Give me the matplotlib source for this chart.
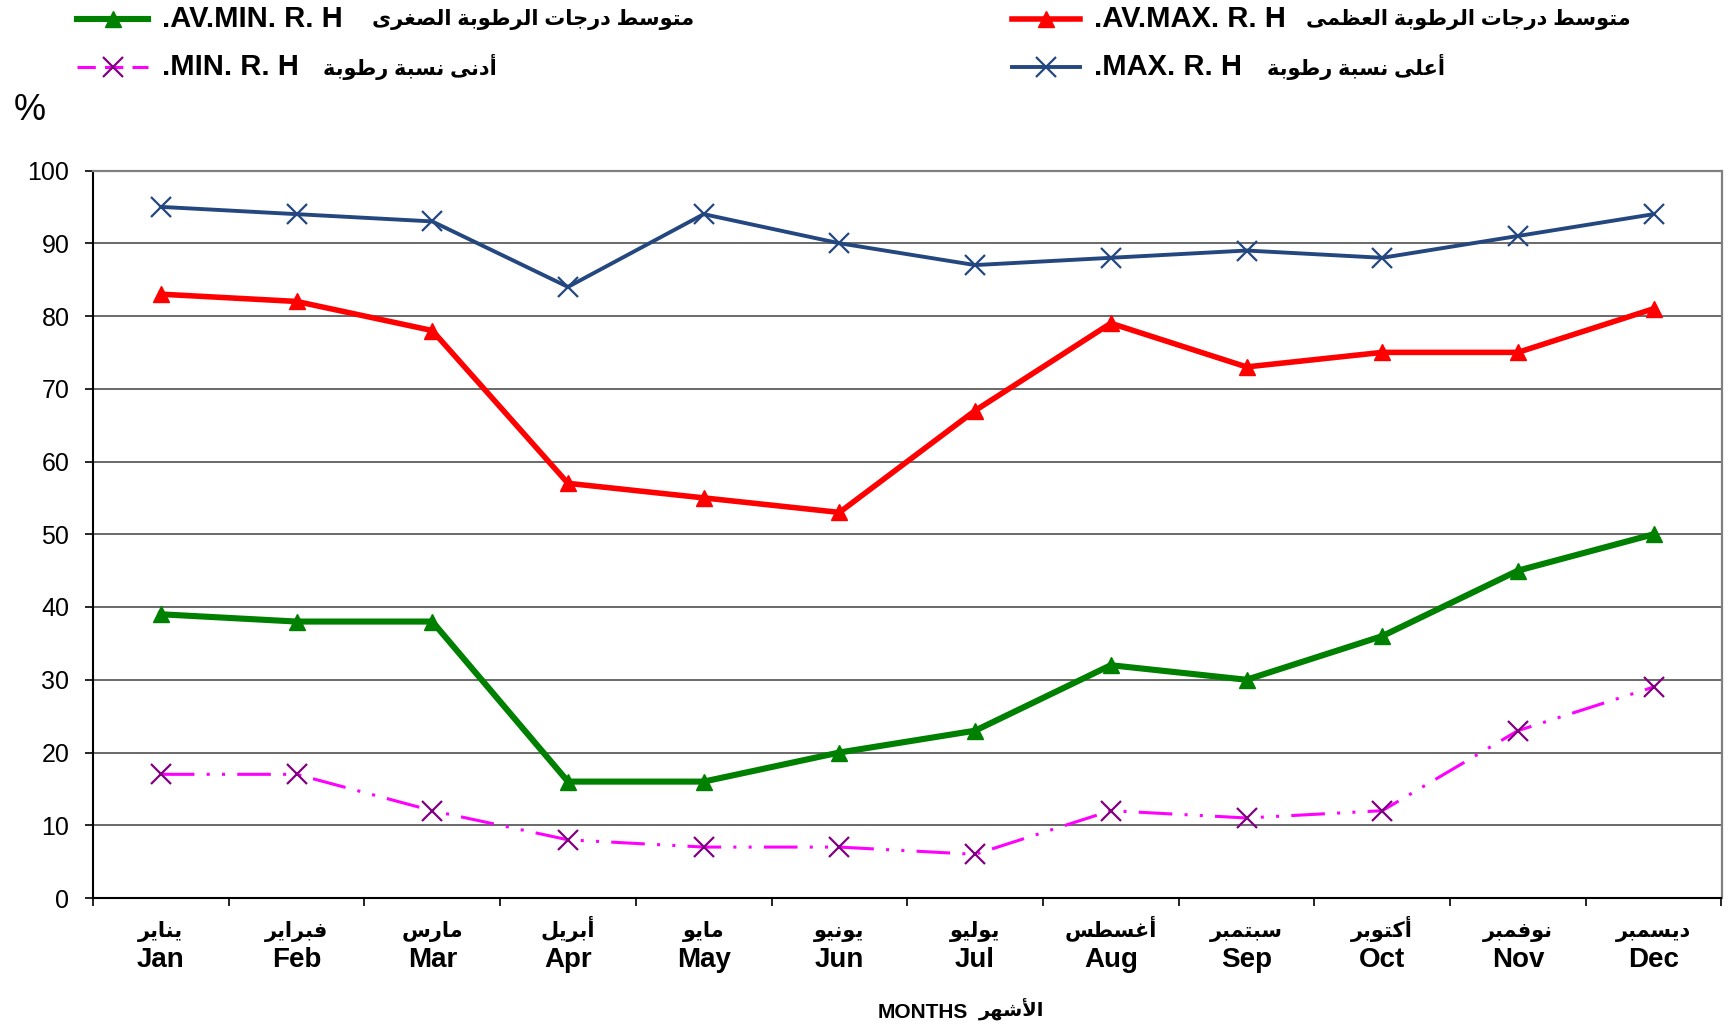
import matplotlib
matplotlib.use("Agg")
import matplotlib.pyplot as plt
from matplotlib.lines import Line2D

plt.rcParams['font.family'] = ['Liberation Sans', 'DejaVu Sans']

months_en = ['Jan', 'Feb', 'Mar', 'Apr', 'May', 'Jun',
             'Jul', 'Aug', 'Sep', 'Oct', 'Nov', 'Dec']
months_ar = ['يناير', 'فبراير', 'مارس', 'أبريل', 'مايو', 'يونيو',
             'يوليو', 'أغسطس', 'سبتمبر', 'أكتوبر', 'نوفمبر', 'ديسمبر']

max_rh = [95, 94, 93, 84, 94, 90, 87, 88, 89, 88, 91, 94]
av_max_rh = [83, 82, 78, 57, 55, 53, 67, 79, 73, 75, 75, 81]
av_min_rh = [39, 38, 38, 16, 16, 20, 23, 32, 30, 36, 45, 50]
min_rh = [17, 17, 12, 8, 7, 7, 6, 12, 11, 12, 23, 29]

lbl_av_min = ('.AV.MIN. R. H', 'متوسط درجات الرطوبة الصغرى')
lbl_av_max = ('.AV.MAX. R. H', 'متوسط درجات الرطوبة العظمى')
lbl_min = ('.MIN. R. H', 'أدنى نسبة رطوبة')
lbl_max = ('.MAX. R. H', 'أعلى نسبة رطوبة')
xlabel_en, xlabel_ar = 'MONTHS', 'الأشهر'

# matplotlib does no arabic shaping: pick presentation forms and reverse
AR_FORMS = {
    'ء': (0xFE80, 1), 'آ': (0xFE81, 2), 'أ': (0xFE83, 2), 'ؤ': (0xFE85, 2),
    'إ': (0xFE87, 2), 'ئ': (0xFE89, 4), 'ا': (0xFE8D, 2), 'ب': (0xFE8F, 4),
    'ة': (0xFE93, 2), 'ت': (0xFE95, 4), 'ث': (0xFE99, 4), 'ج': (0xFE9D, 4),
    'ح': (0xFEA1, 4), 'خ': (0xFEA5, 4), 'د': (0xFEA9, 2), 'ذ': (0xFEAB, 2),
    'ر': (0xFEAD, 2), 'ز': (0xFEAF, 2), 'س': (0xFEB1, 4), 'ش': (0xFEB5, 4),
    'ص': (0xFEB9, 4), 'ض': (0xFEBD, 4), 'ط': (0xFEC1, 4), 'ظ': (0xFEC5, 4),
    'ع': (0xFEC9, 4), 'غ': (0xFECD, 4), 'ف': (0xFED1, 4), 'ق': (0xFED5, 4),
    'ك': (0xFED9, 4), 'ل': (0xFEDD, 4), 'م': (0xFEE1, 4), 'ن': (0xFEE5, 4),
    'ه': (0xFEE9, 4), 'و': (0xFEED, 2), 'ى': (0xFEEF, 2), 'ي': (0xFEF1, 4),
}
LAM_ALEF = {'آ': 0xFEF5, 'أ': 0xFEF7, 'إ': 0xFEF9, 'ا': 0xFEFB}


def arabic(text):
    units = []
    i = 0
    while i < len(text):
        c = text[i]
        if c == 'ل' and i + 1 < len(text) and text[i + 1] in LAM_ALEF:
            units.append((LAM_ALEF[text[i + 1]], 2))
            i += 2
            continue
        units.append(AR_FORMS.get(c, c))
        i += 1
    out = []
    for k, u in enumerate(units):
        if isinstance(u, str):
            out.append(u)
            continue
        base, n = u
        prev = units[k - 1] if k > 0 else None
        nxt = units[k + 1] if k + 1 < len(units) else None
        jp = n > 1 and isinstance(prev, tuple) and prev[1] == 4
        jn = n == 4 and isinstance(nxt, tuple) and nxt[1] > 1
        form = 3 if (jp and jn) else 1 if jp else 2 if jn else 0
        out.append(chr(base + form))
    return ''.join(reversed(out))


W, H = 1728, 1032
fig = plt.figure(figsize=(W / 100, H / 100), dpi=100)
fig.patch.set_facecolor('white')


def fx(x):
    return x / W


def fy(y):
    return 1 - y / H


ax = fig.add_axes([fx(93), fy(898), fx(1721.5) - fx(93), fy(170.5) - fy(898)])

x = list(range(len(months_en)))
styles = {
    'max': dict(color='#24477F', lw=2.8, marker='x', ms=15, mew=1.6),
    'av_max': dict(color='#FF0000', lw=4.0, marker='^', ms=12),
    'av_min': dict(color='#008000', lw=4.4, marker='^', ms=12),
    'min': dict(color='#FF00FF', lw=2.2, ls=(0, (11, 4, 1, 4, 1, 4)),
                marker='x', ms=15, mew=1.6, mec='#800080'),
}
ax.plot(x, max_rh, **styles['max'], zorder=3)
ax.plot(x, av_max_rh, **styles['av_max'], zorder=3)
ax.plot(x, av_min_rh, **styles['av_min'], zorder=3)
ax.plot(x, min_rh, **styles['min'], zorder=3)

ax.set_xlim(-0.5, len(months_en) - 0.5)
ax.set_ylim(0, 100)
ax.set_yticks(range(0, 101, 10))
ax.yaxis.grid(True, color='#505050', lw=1.2)
ax.set_axisbelow(True)
ax.tick_params(axis='y', direction='out', length=6, width=1.2, pad=11,
               labelsize=18)

ax.set_xticks([i - 0.5 for i in range(len(months_en) + 1)])
ax.set_xticklabels([])
ax.set_xticks(x, minor=True)
ax.set_xticklabels(months_en, minor=True, fontsize=20, fontweight='bold')
ax.tick_params(axis='x', which='major', direction='out', length=6, width=1.2)
ax.tick_params(axis='x', which='minor', length=0, pad=35)
for i, m in enumerate(months_ar):
    ax.text(i, -0.053, arabic(m), transform=ax.get_xaxis_transform(),
            ha='center', va='baseline', fontsize=15, fontweight='bold')

for s in ['top', 'right']:
    ax.spines[s].set_color('#808080')
    ax.spines[s].set_linewidth(1.6)
for s in ['left', 'bottom']:
    ax.spines[s].set_color('black')
    ax.spines[s].set_linewidth(1.5)

fig.text(fx(14), fy(110), '%', fontsize=26, va='center', ha='left')
fig.text(fx(878), fy(1013), xlabel_en, fontsize=15, fontweight='bold',
         va='center', ha='left')
fig.text(fx(979), fy(1010), arabic(xlabel_ar), fontsize=14, fontweight='bold',
         va='center', ha='left')


def legend_entry(key, x0, x1, y, label, ar_x):
    st = dict(styles[key])
    if key == 'min':
        st['ls'] = (0, (6, 3))
    line = Line2D([fx(x0), fx((x0 + x1) / 2), fx(x1)], [fy(y)] * 3,
                  transform=fig.transFigure, markevery=[1], **st)
    fig.add_artist(line)
    fig.text(fx(x1 + 14), fy(y), label[0], fontsize=21, fontweight='bold',
             va='center', ha='left')
    fig.text(fx(ar_x), fy(y), arabic(label[1]), fontsize=15, fontweight='bold',
             va='center', ha='left')


legend_entry('av_min', 77, 148, 19, lbl_av_min, 372)
legend_entry('min', 77, 148, 67, lbl_min, 323)
legend_entry('av_max', 1012, 1080, 19, lbl_av_max, 1306)
legend_entry('max', 1012, 1080, 67, lbl_max, 1267)

fig.savefig('out.png', dpi=100, facecolor='white')
